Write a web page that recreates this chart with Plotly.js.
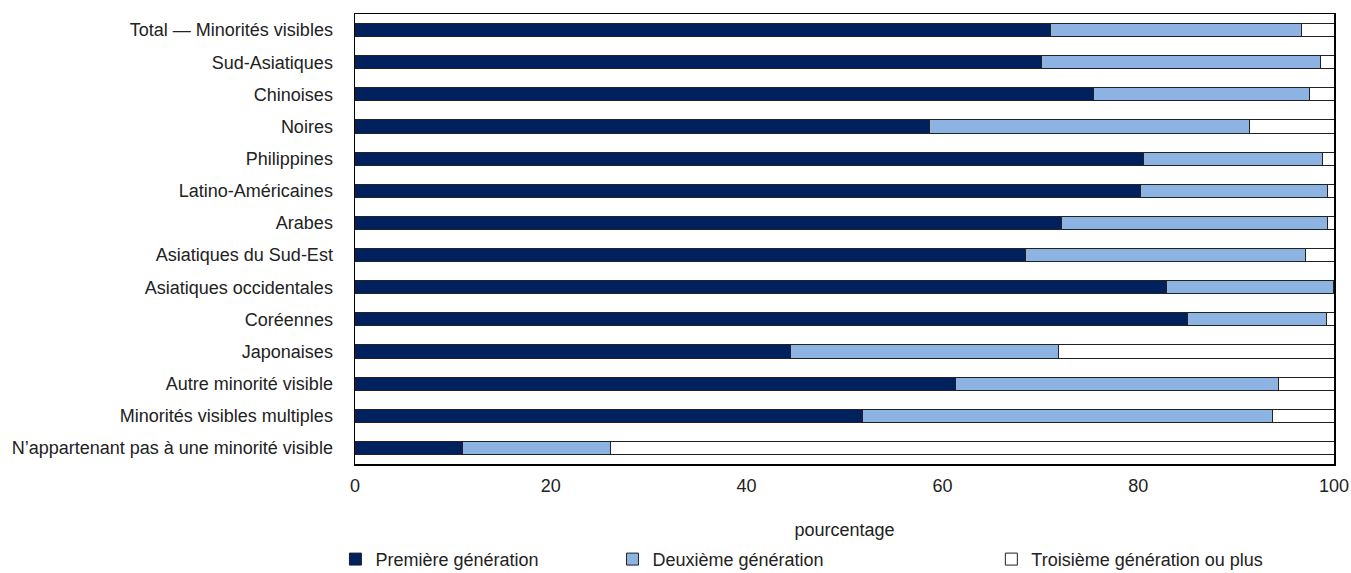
<!DOCTYPE html>
<html>
<head>
<meta charset="utf-8">
<script src="https://cdn.plot.ly/plotly-3.0.1.min.js"></script>
<style>html,body{margin:0;padding:0;background:#fff;}#chart{width:1351px;height:573px;}</style>
</head>
<body>
<div id="chart"></div>
<script>
const categories = [
  "Total — Minorités visibles",
  "Sud-Asiatiques",
  "Chinoises",
  "Noires",
  "Philippines",
  "Latino-Américaines",
  "Arabes",
  "Asiatiques du Sud-Est",
  "Asiatiques occidentales",
  "Coréennes",
  "Japonaises",
  "Autre minorité visible",
  "Minorités visibles multiples",
  "N’appartenant pas à une minorité visible"
];
const premiere = [71.0, 70.1, 75.4, 58.7, 80.5, 80.2, 72.2, 68.5, 82.9, 85.0, 44.5, 61.3, 51.8, 11.0];
const deuxieme = [25.7, 28.5, 22.1, 32.7, 18.3, 19.1, 27.1, 28.6, 17.0, 14.2, 27.4, 33.0, 41.9, 15.1];
const troisieme = [3.3, 1.4, 2.5, 8.6, 1.2, 0.7, 0.7, 2.9, 0.1, 0.8, 28.1, 5.7, 6.3, 73.9];
const seriesNames = ["Première génération", "Deuxième génération", "Troisième génération ou plus"];

const font = "'Liberation Sans', Arial, sans-serif";
const fsize = 18;
const line = {color: "#222222", width: 1};

const traces = [
  {type: "bar", orientation: "h", y: categories, x: premiere, name: seriesNames[0],
   marker: {color: "#00215E", line: line}, legend: "legend"},
  {type: "bar", orientation: "h", y: categories, x: deuxieme, name: seriesNames[1],
   marker: {color: "#8DB3E2", line: line}, legend: "legend2"},
  {type: "bar", orientation: "h", y: categories, x: troisieme, name: seriesNames[2],
   marker: {color: "#FFFFFF", line: line}, legend: "legend3"}
];

const legBase = {orientation: "h", y: -0.212, yanchor: "middle", xanchor: "left",
  font: {family: font, size: fsize, color: "#222"}, bgcolor: "rgba(0,0,0,0)"};

const layout = {
  width: 1351, height: 573,
  margin: {l: 355, r: 17, t: 14, b: 109, autoexpand: false},
  barmode: "stack",
  bargap: 0.59,
  paper_bgcolor: "#fff", plot_bgcolor: "#fff",
  font: {family: font, size: fsize, color: "#222"},
  showlegend: true,
  xaxis: {range: [0, 100], dtick: 20, showgrid: false, zeroline: false,
    showline: true, mirror: true, linecolor: "#000", linewidth: 1.5,
    ticks: "", ticklabelstandoff: 5, tickfont: {family: font, size: fsize, color: "#222"},
    title: {text: "pourcentage", standoff: 28, font: {family: font, size: fsize, color: "#222"}}},
  yaxis: {autorange: "reversed", showgrid: false, zeroline: false,
    showline: true, mirror: true, linecolor: "#000", linewidth: 1.5,
    ticks: "", ticklabelstandoff: 17, tickfont: {family: font, size: fsize, color: "#222"}},
  legend: Object.assign({}, legBase, {x: -0.02}),
  legend2: Object.assign({}, legBase, {x: 0.263}),
  legend3: Object.assign({}, legBase, {x: 0.65})
};

Plotly.newPlot("chart", traces, layout, {displayModeBar: false, staticPlot: true});
</script>
</body>
</html>
